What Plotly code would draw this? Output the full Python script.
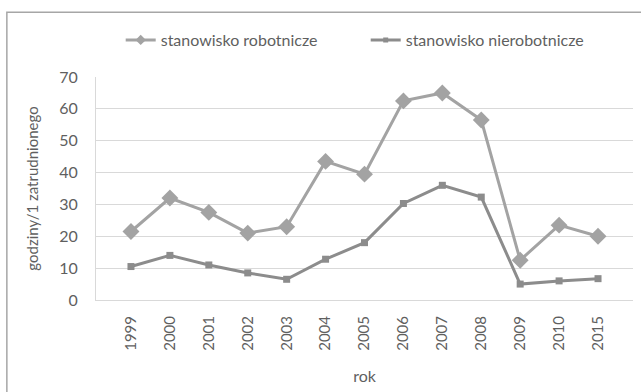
import plotly.graph_objects as go

years = ["1999", "2000", "2001", "2002", "2003", "2004", "2005", "2006", "2007", "2008", "2009", "2010", "2015"]
robotnicze = [21.5, 32, 27.5, 21, 23, 43.5, 39.5, 62.5, 65, 56.5, 12.5, 23.5, 20]
nierobotnicze = [10.5, 14, 11, 8.5, 6.5, 12.8, 18, 30.3, 36, 32.3, 5, 6, 6.7]
names = ["stanowisko robotnicze", "stanowisko nierobotnicze"]
colors = ["#a3a3a3", "#8c8c8c"]

fig = go.Figure()
fig.add_trace(go.Scatter(
    x=years, y=robotnicze, name=names[0], mode="lines+markers", showlegend=False,
    line=dict(color=colors[0], width=3), marker=dict(symbol="diamond", size=13, color=colors[0])))
fig.add_trace(go.Scatter(
    x=years, y=nierobotnicze, name=names[1], mode="lines+markers", showlegend=False,
    line=dict(color=colors[1], width=3), marker=dict(symbol="square", size=7, color=colors[1])))
# legend entries with small markers
fig.add_trace(go.Scatter(x=[None], y=[None], name=names[0], mode="lines+markers",
                         line=dict(color=colors[0], width=3),
                         marker=dict(symbol="diamond", size=8, color=colors[0])))
fig.add_trace(go.Scatter(x=[None], y=[None], name=names[1], mode="lines+markers",
                         line=dict(color=colors[1], width=3),
                         marker=dict(symbol="square", size=5, color=colors[1])))

txt = "#5f5f5f"
fig.update_layout(
    width=641, height=392,
    margin=dict(l=96, r=8, t=77, b=92),
    paper_bgcolor="white", plot_bgcolor="white",
    font=dict(family="Lato", size=16, color=txt),
    showlegend=True,
    legend=dict(orientation="h", x=0.046, xanchor="left", xref="paper",
                y=(300 - 40) / 223, yref="paper", yanchor="middle",
                font=dict(family="Lato", size=16, color=txt),
                itemwidth=30, traceorder="normal", entrywidth=200, entrywidthmode="pixels"),
    xaxis=dict(type="category", tickangle=-90, showgrid=False, showline=True, linecolor="#d9d9d9",
               linewidth=1, ticks="", ticklabelstandoff=9,
               title=dict(text="rok", standoff=20, font=dict(size=16)),
               tickfont=dict(size=15)),
    yaxis=dict(range=[0, 70], dtick=10, showgrid=True, gridcolor="#d9d9d9", gridwidth=1,
               showline=True, linecolor="#d9d9d9", zeroline=False, ticks="", ticklabelstandoff=14,
               title=dict(text="godziny/1 zatrudnionego", standoff=16, font=dict(size=15)),
               tickfont=dict(size=16)),
)
fig.add_shape(type="rect", xref="paper", yref="paper", x0=-0.166, x1=1.1, y0=-0.5, y1=1.29,
              line=dict(color="#a6a6a6", width=1.5), layer="below")
fig.write_html("out.html")
